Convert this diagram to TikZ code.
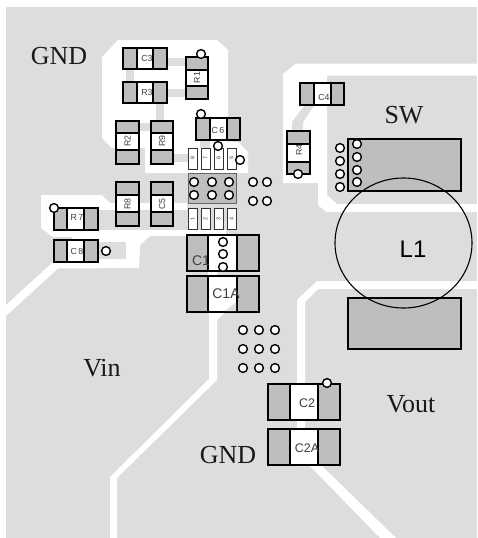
\documentclass[tikz,border=0pt]{standalone}
\usepackage{fontspec}
\setmainfont{Liberation Serif}
\setsansfont{Liberation Sans}
\definecolor{board}{gray}{0.867}
\definecolor{padg}{gray}{0.745}
\definecolor{lab}{gray}{0.25}
\tikzset{
  trace/.style={fill=white,draw=none},
  copper/.style={fill=board,draw=none},
  padbox/.style={fill=padg,draw=black,line width=1.5pt},
  bodybox/.style={fill=white,draw=black,line width=1.5pt},
  pin/.style={fill=white,draw=black!80,line width=0.7pt},
  viahole/.style={circle,fill=white,draw=black,line width=1.4pt,minimum size=8.8pt,inner sep=0pt},
  big/.style={font=\fontsize{26}{26}\selectfont,text=black!90,inner sep=0pt},
  tiny/.style={font=\sffamily\fontsize{8.8}{10}\selectfont,text=lab,inner sep=0pt},
  pinlab/.style={font=\sffamily\fontsize{5.5}{6}\selectfont,text=lab,inner sep=0pt,rotate=90},
  midlab/.style={font=\sffamily\fontsize{14}{14}\selectfont,text=lab,inner sep=0pt},
  smalllab/.style={font=\sffamily\fontsize{12.5}{13}\selectfont,text=lab,inner sep=0pt},
}
% horizontal part: x1 y1 x2 y2 div1 div2
\newcommand{\hpart}[6]{%
  \draw[bodybox] (#1,#2) rectangle (#3,#4);
  \draw[padbox] (#1,#2) rectangle (#5,#4);
  \draw[padbox] (#6,#2) rectangle (#3,#4);}
% vertical part: x1 y1 x2 y2 div1 div2
\newcommand{\vpart}[6]{%
  \draw[bodybox] (#1,#2) rectangle (#3,#4);
  \draw[padbox] (#1,#2) rectangle (#3,#5);
  \draw[padbox] (#1,#6) rectangle (#3,#4);}
\begin{document}
\begin{tikzpicture}[x=1pt,y=-1pt]
\useasboundingbox (0,0) rectangle (477,538);
% board
\fill[copper] (6,7) rectangle (477,538);
% white gaps
\fill[trace] (118,40) -- (217,40) -- (228,50) -- (228,142) -- (238,142) -- (248,152) -- (248,173) -- (145,173) -- (145,148) -- (112,148) -- (102,138) -- (102,57) -- cycle;
\fill[trace] (41,195) -- (102,195) -- (110,203) -- (187,203) -- (187,230) -- (226,230) -- (226,236) -- (150,236) -- (140,245) -- (139,268) -- (58,268.5) -- (6,316) -- (6,305) -- (53,262) -- (53,237) -- (41,228) -- cycle;
\fill[trace] (283,74) -- (296,63.5) -- (477,63.5) -- (477,75.5) -- (327,75.5) -- (327,195) -- (337,204) -- (477,204) -- (477,212) -- (326,212) -- (318,205) -- (318,183) -- (283,183) -- cycle;
\fill[trace] (317,281) -- (477,281) -- (477,289) -- (318,289) -- (305,302) -- (305,466) -- (322,466) -- (396,538) -- (380,538) -- (310,466) -- (297,466) -- (297,300) -- cycle;
\fill[trace] (208,271) -- (217,271) -- (217,320) -- (235,303) -- (237,303) -- (237,276) -- (208,276) -- cycle;
\fill[trace] (209,312) -- (217,312) -- (217,380) -- (117,478) -- (117,538) -- (110,538) -- (110,477) -- (209,379) -- cycle;
% copper links inside the gaps
\fill[copper] (167,58) rectangle (186,66);
\fill[copper] (167,89) rectangle (186,97);
\fill[copper] (126,69) rectangle (134,82);
\fill[copper] (156,103) rectangle (164,121);
\fill[copper] (139,123) rectangle (151,131);
\fill[copper] (173,154) rectangle (188,162);
\fill[copper] (200,140) rectangle (210,148);
\fill[copper] (98,210) rectangle (187,230);
\fill[copper] (53,237) rectangle (72,240);
\fill[copper] (98,242) rectangle (126,259);
\fill[copper] (304,106) -- (314,106) -- (303,122) -- (303,131) -- (292,131) -- (292,122) -- cycle;
% parts
\hpart{123}{48}{167}{69}{137}{153}
\hpart{123}{82}{167}{103}{137}{153}
\vpart{186}{57}{208}{99}{70}{86}
\vpart{116}{121}{139}{164}{133}{150}
\vpart{151}{121}{173}{164}{133}{150}
\hpart{196}{118}{240}{140}{210}{227}
\vpart{116}{182}{139}{226}{195}{212}
\vpart{151}{182}{173}{226}{195}{212}
\hpart{54}{208}{98}{230}{67}{84}
\hpart{54}{240}{98}{262}{67}{84}
\hpart{300}{83}{344}{105}{314}{331}
\vpart{287}{131}{310}{174}{144}{162}
\hpart{187}{235}{259}{271}{208}{237}
\hpart{187}{276}{259}{312}{208}{237}
\hpart{268}{384}{340}{420}{290}{318}
\hpart{268}{429}{340}{465}{290}{318}
\fill[copper] (225,311) -- (236.2,302) -- (236.2,311) -- cycle;
% centre block and pins
\draw[fill=padg,draw=black!60,line width=0.6pt] (188,173) rectangle (236,203);
\draw[pin] (188,148) rectangle (197,169);
\draw[pin] (201,148) rectangle (210,169);
\draw[pin] (214,148) rectangle (223,169);
\draw[pin] (227,148) rectangle (236,169);
\draw[pin] (188,208) rectangle (197,229.5);
\draw[pin] (201,208) rectangle (210,229.5);
\draw[pin] (214,208) rectangle (223,229.5);
\draw[pin] (227,208) rectangle (236,229.5);
\node[pinlab] (p8) at (192.5,158) {8};
\node[pinlab] (p7) at (205.5,158) {7};
\node[pinlab] (p6) at (218.5,158) {6};
\node[pinlab] (p5) at (231.5,158) {5};
\node[pinlab] (p1) at (192.5,219) {1};
\node[pinlab] (p2) at (205.5,219) {2};
\node[pinlab] (p3) at (218.5,219) {3};
\node[pinlab] (p4) at (231.5,219) {4};
% power pads and inductor
\draw[fill=padg,draw=black,line width=1.3pt] (348,139) rectangle (461,191);
\draw[fill=padg,draw=black,line width=1.3pt] (348,298) rectangle (461,349);
\draw[black,line width=1.1pt] (403.5,243) ellipse [x radius=68.5,y radius=65];
% vias
\foreach \x/\y in {201/54,201/114,218/146,240/160,
  194/182,212/182,229/182,194/195,212/195,229/195,
  253/182,267/182,253/201,267/201,
  54/208,106/251,223/242,223/254,223/267,298/174,
  340/148,340/161,340/174,340/187,357/144,357/157,357/170,357/182,
  243/330,259/330,275/330,243/349,259/349,275/349,243/368,259/368,275/368,
  327/383}
  \node[viahole] at (\x,\y) {};
% part labels
\node[tiny] (lc3) at (147,58.5) {C3};
\node[tiny] (lr3) at (147,92.5) {R3};
\node[tiny,rotate=90] (lr1) at (197,77.5) {R1};
\node[tiny,rotate=90] (lr2) at (127.5,141) {R2};
\node[tiny,rotate=90] (lr9) at (162,141) {R9};
\node[tiny] (lc6) at (218,130) {C\,6};
\node[tiny,rotate=90] (lr8) at (127.5,204) {R8};
\node[tiny,rotate=90] (lc5) at (162,204) {C5};
\node[tiny] (lr7) at (77,217) {R\,7};
\node[tiny] (lc8) at (77,251) {C\,8};
\node[tiny] (lc4) at (324,97) {C4};
\node[tiny,rotate=90] (lr4) at (299,150) {R4};
\node[midlab] (lc1) at (201,261) {C1};
\node[midlab] (lc1a) at (226,293.5) {C1A};
\node[smalllab] (lc2) at (307,403) {C2};
\node[smalllab] (lc2a) at (307,448) {C2A};
\node[font=\sffamily\fontsize{24}{24}\selectfont,text=black,inner sep=0pt] (ll1) at (413,249.5) {L1};
% net labels
\node[big] (gnda) at (59,56) {GND};
\node[big] (sw) at (404,115) {SW};
\node[big] (vin) at (102,368) {Vin};
\node[big] (vout) at (411,404) {Vout};
\node[big] (gndb) at (228,455) {GND};
\end{tikzpicture}
\end{document}
